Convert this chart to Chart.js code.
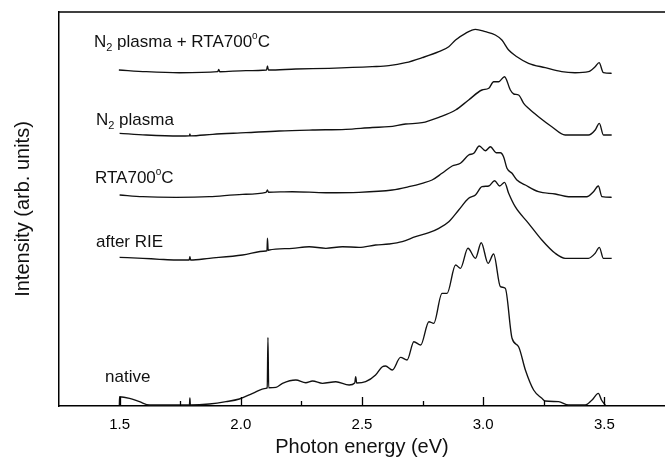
<!DOCTYPE html>
<html>
<head>
<meta charset="utf-8">
<script src="https://cdn.jsdelivr.net/npm/chart.js@4/dist/chart.umd.min.js"></script>
<style>
  html, body { margin:0; padding:0; background:#fff; }
  #wrap { width:665px; height:463px; }
</style>
</head>
<body>
<div id="wrap"><canvas id="pl" width="665" height="463"></canvas></div>
<script>
// PL spectra, stacked; intensities (arb. units, relative to each baseline)
const majorTicks = [1.5, 2.0, 2.5, 3.0, 3.5];
const minorTicks = [1.75, 2.25, 2.75, 3.25];

const eN2Rta = [1.497,1.61,1.747,1.905,1.909,1.913,2.021,2.106,2.110,2.114,2.227,2.364,2.542,2.611,2.680,2.748,2.817,2.858,2.886,2.927,2.968,3.009,3.050,3.077,3.105,3.139,3.187,3.256,3.324,3.379,3.434,3.462,3.478,3.496,3.530];
const iN2Rta = [2,0.3,-0.7,0.3,2.7,0.3,1.3,2,6,2,3,3.7,5.3,6.3,9.3,14.3,20.3,25.3,32,38.7,42.7,40.3,37,32,22,15.3,8.7,4.3,0.3,-0.7,0.3,5.3,9.3,-0.7,-1.3];

const eN2 = [1.5,1.61,1.747,1.788,1.790,1.792,1.884,2.021,2.158,2.296,2.433,2.542,2.611,2.680,2.748,2.817,2.886,2.940,2.995,3.023,3.043,3.064,3.088,3.112,3.126,3.146,3.167,3.187,3.228,3.283,3.338,3.434,3.462,3.479,3.496,3.530];
const iN2 = [1.7,0,-1,-0.8,1.2,-0.8,0.7,2.3,4,5,5.7,7.5,8.3,11,12.3,17.7,25,35,45,46.7,53.3,53.3,58.3,45,41,40,31.7,26.7,18.3,8.3,0,0,5,11.7,0,0];

const eRta = [1.5,1.596,1.733,1.870,2.007,2.104,2.110,2.114,2.213,2.351,2.488,2.625,2.693,2.748,2.789,2.830,2.872,2.906,2.940,2.961,2.984,3.009,3.030,3.053,3.071,3.084,3.098,3.119,3.139,3.174,3.228,3.297,3.352,3.427,3.455,3.475,3.490,3.530];
const iRta = [2,0.3,-0.3,0.3,2.7,4.7,7,4.8,5.3,4.3,4.7,7,10.3,13.7,17,23.7,31,33.7,42,43.7,51,46.3,50.3,44.3,44.3,40.3,28.7,23.7,17,12,5.3,3,0.3,0.3,5.3,11,0.3,-0.3];

const eRie = [1.5,1.596,1.665,1.733,1.787,1.790,1.793,1.870,2.007,2.104,2.108,2.110,2.113,2.117,2.213,2.282,2.351,2.419,2.488,2.556,2.611,2.666,2.721,2.776,2.817,2.858,2.899,2.940,2.968,2.995,3.023,3.047,3.068,3.088,3.105,3.132,3.187,3.242,3.297,3.338,3.434,3.462,3.479,3.496,3.530];
const iRie = [0.7,-0.3,-1.3,-2,-2,1.3,-2,-0.3,3,7,7.3,19.7,7.6,8,9.7,11.3,9.7,11.3,10.7,13,14,16.3,21.3,25.3,29.7,36.3,48,59.7,63,71.3,72,77.3,72,75.7,64.7,51.3,34.7,18,4.7,-0.3,-0.3,4.7,10.7,-0.3,-0.3];

const eNative = [1.499,1.5,1.541,1.582,1.623,1.75,1.788,1.790,1.792,1.870,1.939,1.994,2.049,2.104,2.109,2.112,2.115,2.145,2.172,2.227,2.268,2.296,2.337,2.392,2.447,2.470,2.474,2.478,2.515,2.556,2.584,2.597,2.625,2.659,2.686,2.714,2.742,2.776,2.796,2.830,2.851,2.886,2.906,2.937,2.968,2.992,3.020,3.043,3.071,3.091,3.119,3.146,3.174,3.208,3.242,3.256,3.311,3.352,3.421,3.449,3.475,3.488,3.504];
const iNative = [0,8.3,6.7,3.3,0,0,0,7,0,1,3.3,6,11.7,16.7,17,67.7,17.3,17.7,21.7,25,22.3,24,21.7,23.3,20,22,28.3,22,23.3,30,38.3,39,35,47.7,45,63.3,60,83.3,81.7,111.7,111.7,140,136.7,156.7,146.7,162.3,141.7,151,118.3,116.7,66.7,58.3,35,15,6.7,4,3.3,0,0,5,11.7,5,0];

// vertical offsets used to stack the spectra
const offsets = { n2rta:333, n2:270, rta:208, rie:147, native:0 };

const FONT = '"Liberation Sans", Arial, Helvetica, sans-serif';

function series(es, is, off){
  return es.map((e, i) => ({ x:e, y:is[i] + off }));
}
function ds(es, is, off){
  return { data: series(es, is, off), borderColor:'#111', borderWidth:1.35, pointRadius:0, cubicInterpolationMode:'monotone', fill:false };
}

// labels next to each curve: parts are [text, kind] where kind = '' | 'sub' | 'sup'
const curveLabels = [
  { x:94,  y:47,  parts:[['N',''],['2','sub'],[' plasma + RTA700',''],['o','sup'],['C','']] },
  { x:96,  y:125, parts:[['N',''],['2','sub'],[' plasma','']] },
  { x:95,  y:183, parts:[['RTA700',''],['o','sup'],['C','']] },
  { x:96,  y:247, parts:[['after RIE','']] },
  { x:105, y:382, parts:[['native','']] }
];

const decor = {
  id:'decor',
  afterDraw(chart){
    const {ctx, chartArea:a, scales:{x}} = chart;
    ctx.save();
    ctx.strokeStyle = '#000';
    ctx.lineWidth = 1.5;
    ctx.beginPath();
    ctx.moveTo(a.left, a.top); ctx.lineTo(a.right + 2, a.top);
    ctx.stroke();
    // inward ticks
    ctx.lineWidth = 1.3;
    ctx.beginPath();
    majorTicks.forEach(v => { const p = Math.round(x.getPixelForValue(v)) + 0.5; ctx.moveTo(p, a.bottom); ctx.lineTo(p, a.bottom - 9); });
    minorTicks.forEach(v => { const p = Math.round(x.getPixelForValue(v)) + 0.5; ctx.moveTo(p, a.bottom); ctx.lineTo(p, a.bottom - 5); });
    ctx.stroke();
    // curve labels
    ctx.fillStyle = '#111';
    ctx.textBaseline = 'alphabetic';
    curveLabels.forEach(l => {
      let cx = l.x;
      l.parts.forEach(([t, k]) => {
        if(k === 'sub'){ ctx.font = '11px ' + FONT; ctx.fillText(t, cx, l.y + 4); }
        else if(k === 'sup'){ ctx.font = '10px ' + FONT; ctx.fillText(t, cx, l.y - 8); }
        else { ctx.font = '17px ' + FONT; ctx.fillText(t, cx, l.y); }
        cx += ctx.measureText(t).width;
      });
    });
    ctx.restore();
  }
};

new Chart(document.getElementById('pl'), {
  type:'line',
  data:{
    datasets:[
      ds(eN2Rta, iN2Rta, offsets.n2rta),
      ds(eN2, iN2, offsets.n2),
      ds(eRta, iRta, offsets.rta),
      ds(eRie, iRie, offsets.rie),
      ds(eNative, iNative, offsets.native)
    ]
  },
  options:{
    responsive:false,
    animation:false,
    devicePixelRatio:1,
    layout:{ padding:{ top:12, right:0, left:0, bottom:0 } },
    plugins:{ legend:{ display:false }, tooltip:{ enabled:false } },
    scales:{
      x:{
        type:'linear', min:1.25, max:3.75,
        grid:{ display:false, drawTicks:false },
        border:{ display:true, color:'#000', width:1.5 },
        afterBuildTicks(scale){ scale.ticks = majorTicks.map(v => ({ value:v })); },
        afterFit(scale){ scale.height = 57; },
        ticks:{ color:'#000', padding:10, font:{ family:FONT, size:15 }, callback:v => v.toFixed(1) },
        title:{ display:true, text:'Photon energy (eV)', color:'#111', padding:{ top:0, bottom:4 }, font:{ family:FONT, size:20 } }
      },
      y:{
        type:'linear', min:-1, max:393,
        grid:{ display:false, drawTicks:false },
        border:{ display:true, color:'#000', width:1.5 },
        ticks:{ display:false },
        afterFit(scale){ scale.width = 59; },
        title:{ display:true, text:'Intensity (arb. units)', color:'#111', padding:{ top:11, bottom:0 }, font:{ family:FONT, size:20 } }
      }
    }
  },
  plugins:[decor]
});
</script>
</body>
</html>
